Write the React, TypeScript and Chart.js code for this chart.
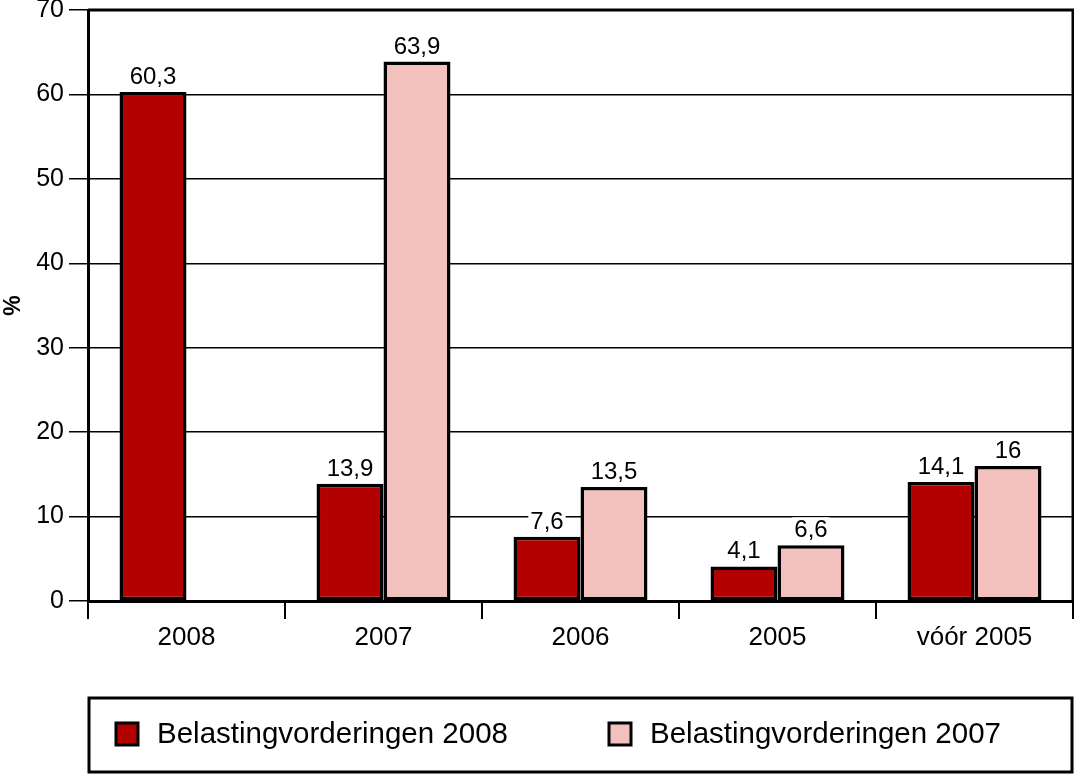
import React, { useEffect, useRef } from "react";
import { Chart, registerables } from "chart.js";

Chart.register(...registerables);

const categories = ["2008", "2007", "2006", "2005", "vóór 2005"];
const series2008 = [60.3, 13.9, 7.6, 4.1, 14.1];
const series2007: (number | null)[] = [null, 63.9, 13.5, 6.6, 16];
const seriesNames = ["Belastingvorderingen 2008", "Belastingvorderingen 2007"];
const yTicks = [0, 10, 20, 30, 40, 50, 60, 70];

const FONT = "'Liberation Sans', Arial, sans-serif";
const RED = "#b30000";
const PINK = "#f2c0bd";

const labelsPlugin = {
  id: "valueLabels",
  afterDatasetsDraw(chart: any) {
    const ctx = chart.ctx;
    ctx.save();
    ctx.font = `24px ${FONT}`;
    ctx.textAlign = "center";
    ctx.textBaseline = "alphabetic";
    chart.data.datasets.forEach((ds: any, di: number) => {
      const meta = chart.getDatasetMeta(di);
      meta.data.forEach((bar: any, i: number) => {
        const v = ds.data[i];
        if (v === null || v === undefined) return;
        const txt = String(v).replace(".", ",");
        const w = ctx.measureText(txt).width;
        ctx.fillStyle = "#fff";
        ctx.fillRect(bar.x - w / 2 - 2, bar.y - 28, w + 4, 24);
        ctx.fillStyle = "#000";
        ctx.fillText(txt, bar.x, bar.y - 8);
      });
    });
    ctx.restore();
  },
};

const framePlugin = {
  id: "frameAndLegend",
  afterDraw(chart: any) {
    const ctx = chart.ctx;
    const a = chart.chartArea;
    ctx.save();
    ctx.strokeStyle = "#000";
    ctx.lineWidth = 3;
    ctx.beginPath();
    ctx.moveTo(a.left, a.top);
    ctx.lineTo(a.right, a.top);
    ctx.lineTo(a.right, a.bottom);
    ctx.stroke();
    // legend box
    const bx = a.left + 1;
    const by = 698;
    const bw = a.right - a.left - 2;
    const bh = 74;
    ctx.strokeRect(bx, by, bw, bh);
    const items = [
      { x: 116, color: RED, text: seriesNames[0] },
      { x: 609, color: PINK, text: seriesNames[1] },
    ];
    ctx.font = `29.5px ${FONT}`;
    ctx.textBaseline = "middle";
    ctx.textAlign = "left";
    items.forEach((it) => {
      ctx.fillStyle = it.color;
      ctx.fillRect(it.x, 723, 22, 22);
      ctx.lineWidth = 3;
      ctx.strokeRect(it.x, 723, 22, 22);
      ctx.fillStyle = "#000";
      ctx.fillText(it.text, it.x + 41, 735);
    });
    ctx.restore();
  },
};

export default function App() {
  const ref = useRef<HTMLCanvasElement>(null);
  useEffect(() => {
    document.body.style.margin = "0";
    const chart = new Chart(ref.current!, {
      type: "bar",
      data: {
        labels: categories,
        datasets: [
          {
            label: seriesNames[0],
            data: series2008,
            backgroundColor: RED,
            borderColor: "#000",
            borderWidth: 3.5,
            borderSkipped: false,
          },
          {
            label: seriesNames[1],
            data: series2007,
            backgroundColor: PINK,
            borderColor: "#000",
            borderWidth: 3.5,
            borderSkipped: false,
          },
        ],
      },
      options: {
        animation: false,
        responsive: false,
        maintainAspectRatio: false,
        layout: { padding: { top: 10, right: 1, bottom: 125, left: 0 } },
        plugins: { legend: { display: false }, tooltip: { enabled: false } },
        datasets: { bar: { categoryPercentage: 0.68, barPercentage: 1 } },
        scales: {
          x: {
            grid: {
              offset: true,
              drawOnChartArea: false,
              drawTicks: true,
              tickLength: 18,
              color: "#000",
              lineWidth: 2,
            },
            border: { color: "#000", width: 3 },
            ticks: { color: "#000", font: { size: 26, family: FONT }, padding: 3 },
            afterFit(scale: any) {
              scale.height = 50;
              scale.paddingLeft = 0;
              scale.paddingRight = 0;
            },
          },
          y: {
            min: 0,
            max: 70,
            afterBuildTicks(scale: any) {
              scale.ticks = yTicks.map((v) => ({ value: v }));
            },
            grid: {
              color: "#000",
              lineWidth: 1.5,
              tickLength: 19,
            },
            border: { color: "#000", width: 3 },
            ticks: { color: "#000", font: { size: 25, family: FONT }, padding: 5 },
            title: {
              display: true,
              text: "%",
              color: "#000",
              font: { size: 23, family: FONT, weight: "bold" },
              padding: { top: 0, bottom: 0 },
            },
            afterFit(scale: any) {
              scale.width = 88;
              scale.paddingTop = 0;
              scale.paddingBottom = 0;
            },
          },
        },
      },
      plugins: [labelsPlugin, framePlugin],
    });
    return () => chart.destroy();
  }, []);
  return <canvas ref={ref} width={1074} height={776} style={{ display: "block" }} />;
}
